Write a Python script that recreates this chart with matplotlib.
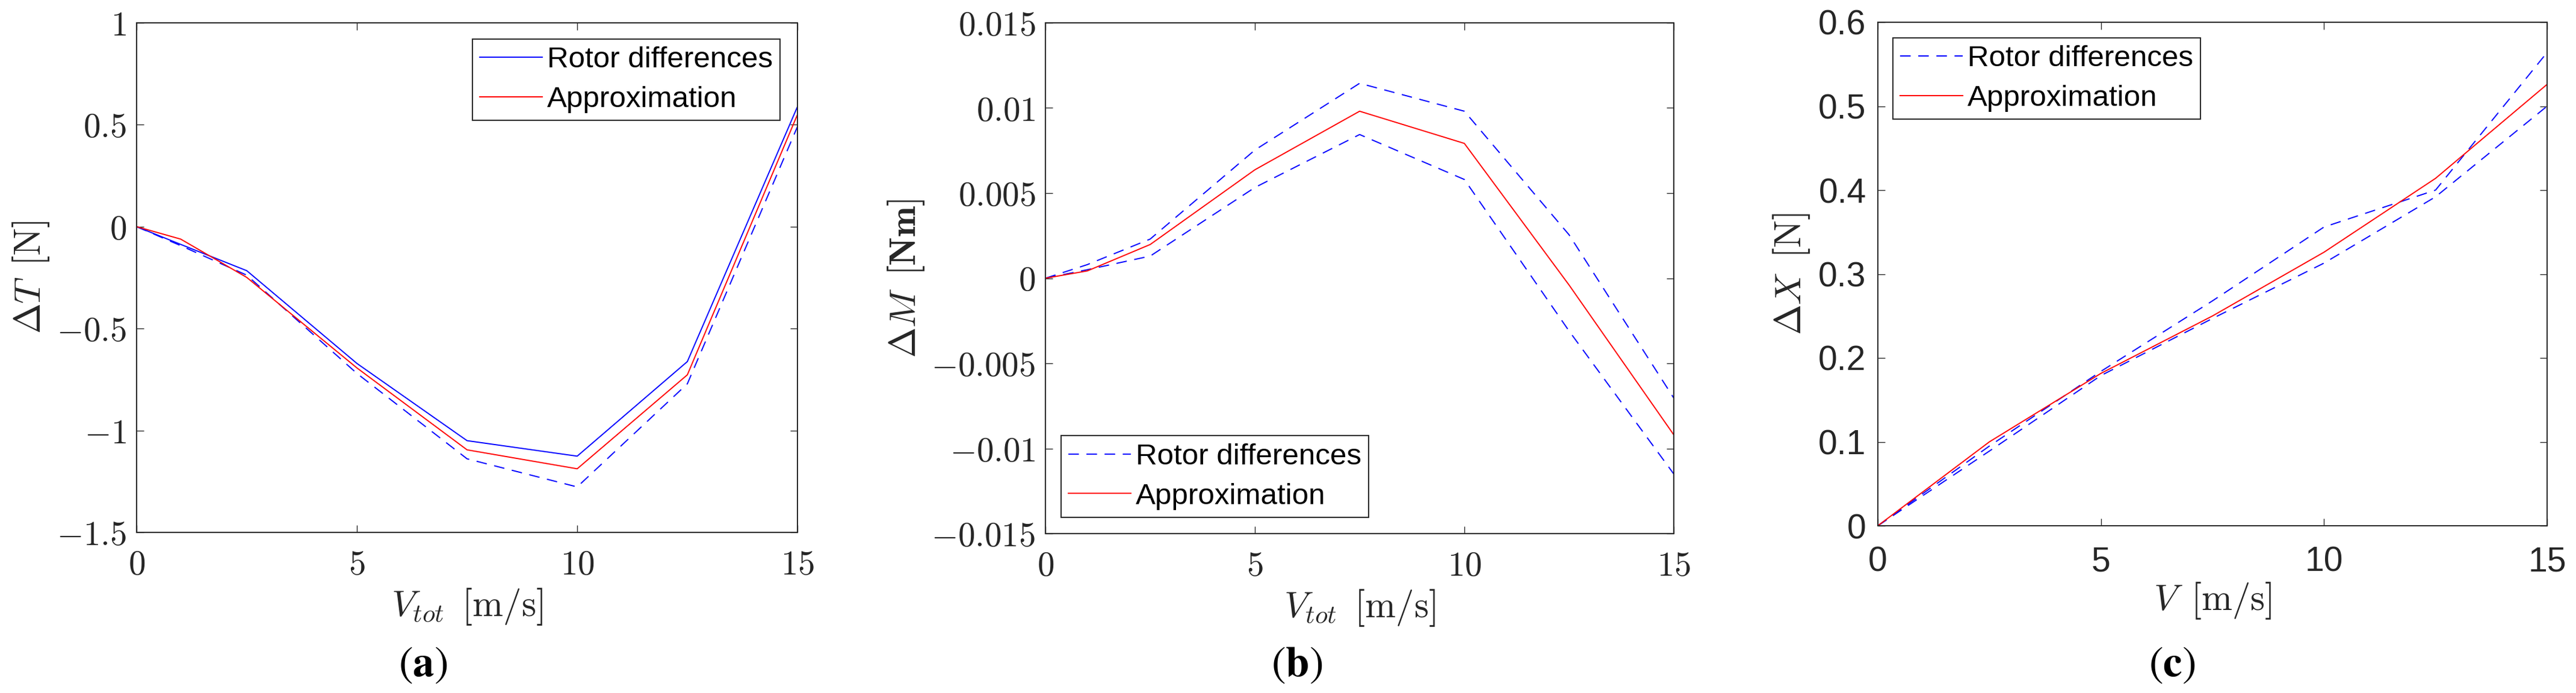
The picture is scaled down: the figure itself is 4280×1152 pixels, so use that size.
import matplotlib
matplotlib.use("Agg")
import matplotlib.pyplot as plt
from matplotlib.ticker import FixedLocator, FixedFormatter

plt.rcParams['mathtext.fontset'] = 'cm'
plt.rcParams['font.family'] = ['Liberation Sans', 'DejaVu Sans']

# ---------------- data ----------------
v_pts = [0, 1, 2.5, 5, 7.5, 10, 12.5, 15]

# panel (a): thrust difference
dT_rotor = [0, -0.087, -0.216, -0.671, -1.050, -1.126, -0.662, 0.589]
dT_rotor_b = [0, -0.093, -0.238, -0.720, -1.139, -1.277, -0.771, 0.491]
dT_approx = [0, -0.061, -0.249, -0.693, -1.095, -1.188, -0.727, 0.550]

# panel (b): moment difference
dM_rotor_hi = [0, 0.0008, 0.0023, 0.00753, 0.01145, 0.00981, 0.00255, -0.00704]
dM_rotor_lo = [0, 0.0005, 0.0013, 0.00533, 0.00844, 0.0058, -0.0031, -0.0115]
dM_approx = [0, 0.00043, 0.00198, 0.00637, 0.00981, 0.00792, -0.0004, -0.0092]

# panel (c): drag difference
v_c = [0, 2.5, 5, 7.5, 10, 12.5, 15]
dX_rotor_hi = [0, 0.095, 0.184, 0.268, 0.356, 0.400, 0.564]
dX_rotor_lo = [0, 0.089, 0.179, 0.247, 0.313, 0.392, 0.500]
dX_approx = [0, 0.100, 0.1816, 0.250, 0.326, 0.414, 0.526]

x_ticks = [0, 5, 10, 15]
x_ticklabels_tex = ['$0$', '$5$', '$10$', '$15$']
x_ticklabels_c = ['0', '5', '10', '15']
a_yticks = [-1.5, -1, -0.5, 0, 0.5, 1]
a_yticklabels = ['$-1.5$', '$-1$', '$-0.5$', '$0$', '$0.5$', '$1$']
b_yticks = [-0.015, -0.01, -0.005, 0, 0.005, 0.01, 0.015]
b_yticklabels = ['$-0.015$', '$-0.01$', '$-0.005$', '$0$', '$0.005$', '$0.01$', '$0.015$']
c_yticks = [0, 0.1, 0.2, 0.3, 0.4, 0.5, 0.6]
c_yticklabels = ['0', '0.1', '0.2', '0.3', '0.4', '0.5', '0.6']

legend_labels = ['Rotor differences', 'Approximation']
captions = ['a', 'b', 'c']

# ---------------- style ----------------
W, H = 4280, 1152
fig = plt.figure(figsize=(W / 100, H / 100), dpi=100)

BLUE = '#0000ff'
RED = '#ff0000'
DARK = '#262626'
LW = 1.4
DASH = (9, 6.5)
TICK_FS = 41
LABEL_FS = 44
LEG_FS = 35.5


def px_axes(l, t, r, b):
    return fig.add_axes([l / W, 1 - b / H, (r - l) / W, (b - t) / H])


def style(ax, yticks, yticklabels, xticklabels, sans=False):
    ax.set_xlim(0, 15)
    ax.xaxis.set_major_locator(FixedLocator(x_ticks))
    ax.xaxis.set_major_formatter(FixedFormatter(xticklabels))
    ax.set_ylim(yticks[0], yticks[-1])
    ax.yaxis.set_major_locator(FixedLocator(yticks))
    ax.yaxis.set_major_formatter(FixedFormatter(yticklabels))
    for s in ax.spines.values():
        s.set_color(DARK)
        s.set_linewidth(1.4)
    ax.tick_params(which='both', direction='in', top=True, right=True,
                   length=8.5, width=1.0, color=DARK, labelcolor=DARK,
                   labelsize=TICK_FS)
    ax.tick_params(axis='x', pad=20 if not sans else 24)
    ax.tick_params(axis='y', pad=12 if not sans else 14)
    ax.minorticks_off()


def legend(ax, handles, loc, anchor):
    leg = ax.legend(handles, legend_labels, loc=loc, bbox_to_anchor=anchor,
                    borderaxespad=0, fontsize=LEG_FS, frameon=True,
                    fancybox=False, framealpha=1, edgecolor=DARK,
                    handlelength=2.11, handletextpad=0.15, labelspacing=0.42,
                    borderpad=0.25)
    leg.get_frame().set_linewidth(1.4)
    return leg


# ---- panel (a)
axa = px_axes(227, 38, 1325, 885)
h1, = axa.plot(v_pts, dT_rotor, color=BLUE, lw=LW)
axa.plot(v_pts, dT_rotor_b, color=BLUE, lw=LW, dashes=DASH)
h2, = axa.plot(v_pts, dT_approx, color=RED, lw=LW)
style(axa, a_yticks, a_yticklabels, x_ticklabels_tex)
axa.set_xlabel(r'$V_{tot}\ \,[\mathrm{m/s}]$', fontsize=LABEL_FS, color=DARK)
axa.set_ylabel(r'$\Delta T\ \,[\mathrm{N}]$', fontsize=LABEL_FS, color=DARK)
axa.xaxis.set_label_coords(0.5, -0.146)
axa.yaxis.set_label_coords(-0.160, 0.5)
legend(axa, [h1, h2], 'upper right', (0.9736, 0.968))

# ---- panel (b)
axb = px_axes(1737, 38, 2781, 887)
h1, = axb.plot(v_pts, dM_rotor_hi, color=BLUE, lw=LW, dashes=DASH)
axb.plot(v_pts, dM_rotor_lo, color=BLUE, lw=LW, dashes=DASH)
h2, = axb.plot(v_pts, dM_approx, color=RED, lw=LW)
style(axb, b_yticks, b_yticklabels, x_ticklabels_tex)
axb.set_xlabel(r'$V_{tot}\ \,[\mathrm{m/s}]$', fontsize=LABEL_FS, color=DARK)
axb.set_ylabel(r'$\Delta M\ \,[\mathbf{Nm}]$', fontsize=LABEL_FS, color=DARK)
axb.xaxis.set_label_coords(0.5, -0.145)
axb.yaxis.set_label_coords(-0.222, 0.5)
legend(axb, [h1, h2], 'lower left', (0.0249, 0.032))

# ---- panel (c)
axc = px_axes(3120, 37, 4232, 874)
h1, = axc.plot(v_c, dX_rotor_hi, color=BLUE, lw=LW, dashes=DASH)
axc.plot(v_c, dX_rotor_lo, color=BLUE, lw=LW, dashes=DASH)
h2, = axc.plot(v_c, dX_approx, color=RED, lw=LW)
style(axc, c_yticks, c_yticklabels, x_ticklabels_c, sans=True)
axc.set_xlabel(r'$V\ \,[\mathrm{m/s}]$', fontsize=LABEL_FS, color=DARK)
axc.set_ylabel(r'$\Delta X\ \,[\mathrm{N}]$', fontsize=LABEL_FS, color=DARK)
axc.xaxis.set_label_coords(0.5, -0.149)
axc.yaxis.set_label_coords(-0.129, 0.5)
legend(axc, [h1, h2], 'upper left', (0.0225, 0.969))

for ax in (axa, axb, axc):
    ax.xaxis.label.set_va('center')
    ax.yaxis.label.set_va('center')
    ax.yaxis.label.set_ha('center')

# ---- captions
cap_pos = [(703, 1106), (2155, 1106), (3609, 1106)]
for c, (cx, cy) in zip(captions, cap_pos):
    fig.text(cx / W, 1 - cy / H, r'$(\mathbf{%s})$' % c, fontsize=51,
             ha='center', va='center', color='black', math_fontfamily='stix')

fig.savefig('out.png', dpi=100, facecolor='white')
